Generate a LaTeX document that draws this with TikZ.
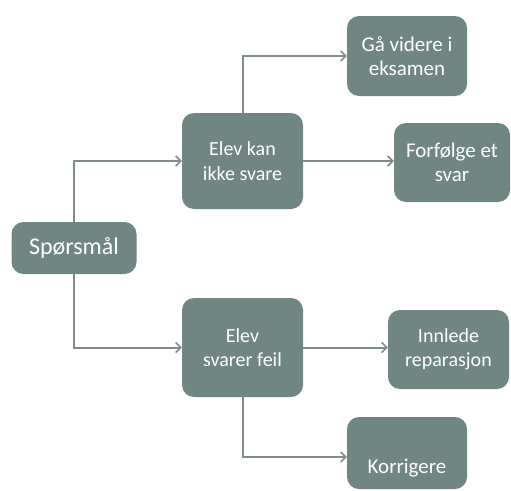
\documentclass[tikz,border=0pt]{standalone}
\usepackage{fontspec}
\setmainfont{Carlito}
\usetikzlibrary{arrows.meta}
\definecolor{boxfill}{HTML}{6F8683}
\definecolor{linecol}{HTML}{7E8C8A}
\begin{document}
\begin{tikzpicture}[x=1pt,y=-1pt,
  box/.style={draw=none,fill=boxfill,rounded corners=12pt,text=white,
    font=\fontsize{20}{24.5}\selectfont,align=center,inner sep=0pt},
  bigger/.style={font=\fontsize{21}{24.5}\selectfont},
  conn/.style={draw=linecol,line width=2pt,
    -{Straight Barb[length=5pt,width=10pt,line width=1.6pt]}},
  lbl/.style={text=white,font=\fontsize{21}{24.5}\selectfont,inner sep=0pt}]
\useasboundingbox (0,0) rectangle (511,490);
\node[box,minimum width=125pt,minimum height=52pt,font=\fontsize{24}{28}\selectfont] (q) at (74,248) {Spørsmål};
\node[box,minimum width=121pt,minimum height=96pt] (a) at (242.5,161) {Elev kan\\ikke svare};
\node[box,minimum width=121pt,minimum height=99pt] (b) at (242.5,347.5) {Elev\\svarer feil};
\node[box,bigger,minimum width=120pt,minimum height=80pt] (a1) at (407,56) {Gå videre i\\eksamen};
\node[box,bigger,minimum width=116pt,minimum height=79pt] (a2) at (452,162.5) {Forfølge et\\svar};
\node[box,minimum width=121pt,minimum height=79pt] (b1) at (448.5,349.5) {Innlede\\reparasjon};
\node[box,minimum width=120pt,minimum height=72pt] (b2) at (407,453) {};
\node[lbl,anchor=base] (b2t) at (407,473) {Korrigere};
\draw[conn] (q.north) |- (a.west);
\draw[conn] (q.south) |- (b.west);
\draw[conn] (a.north) |- (a1.west);
\draw[conn] (a.east) -- (a2.west |- a.east);
\draw[conn] (b.east) -- (b1.west |- b.east);
\draw[conn] (b.south) |- (b2.west |- 0,457);
\end{tikzpicture}
\end{document}
